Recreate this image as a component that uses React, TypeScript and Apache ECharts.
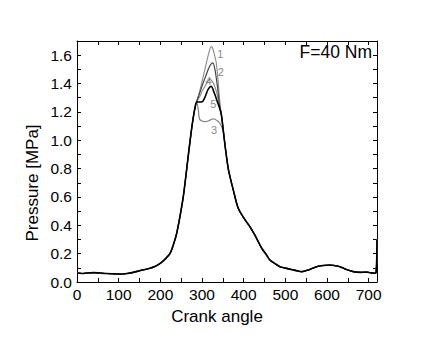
import React, { useEffect, useRef } from "react";
import * as echarts from "echarts";

// Common rising part (crank angle, pressure MPa)
const riseAngles = [0, 12, 25, 40, 55, 70, 85, 103, 120, 135, 151, 163, 175, 187, 199, 211, 223, 231, 239, 247, 255, 261, 267, 272, 277, 282, 287];
const risePressure = [0.063, 0.06, 0.064, 0.066, 0.063, 0.06, 0.058, 0.056, 0.06, 0.068, 0.08, 0.088, 0.097, 0.11, 0.13, 0.16, 0.2, 0.26, 0.34, 0.46, 0.6, 0.74, 0.89, 1.01, 1.12, 1.21, 1.27];

// Peak region of each curve
const peakAngles1 = [292, 299, 307, 315, 322, 326, 330, 334, 338, 341, 344, 347];
const peak1 = [1.32, 1.4, 1.5, 1.6, 1.66, 1.645, 1.6, 1.55, 1.44, 1.33, 1.24, 1.17];
const peakAngles2 = [293, 301, 310, 318, 326, 331, 337, 342, 347];
const peak2 = [1.32, 1.39, 1.46, 1.52, 1.545, 1.5, 1.38, 1.25, 1.17];
const peakAngles3 = [291, 294, 300, 308, 318, 324, 330, 335, 340, 345, 349];
const peak3 = [1.22, 1.15, 1.135, 1.13, 1.14, 1.15, 1.15, 1.14, 1.13, 1.11, 1.08];
const peakAngles4 = [295, 301, 307, 313, 318, 326, 334, 340, 344, 347];
const peak4 = [1.31, 1.35, 1.38, 1.41, 1.43, 1.41, 1.35, 1.27, 1.22, 1.17];
const peakAngles5 = [292, 298, 302, 308, 315, 322, 330, 337, 343, 347];
const peak5 = [1.27, 1.27, 1.275, 1.31, 1.36, 1.38, 1.33, 1.27, 1.22, 1.17];

// Common falling part
const fallAngles = [351, 355, 359, 363, 369, 375, 387, 403, 415, 427, 443, 455, 463, 475, 487, 500, 515, 530, 540, 555, 575, 590, 607, 620, 631, 645, 663, 680, 695, 705, 714, 718, 720];
const fallPressure = [1.07, 0.97, 0.88, 0.8, 0.72, 0.65, 0.52, 0.44, 0.39, 0.33, 0.24, 0.19, 0.155, 0.13, 0.108, 0.098, 0.088, 0.077, 0.073, 0.085, 0.108, 0.116, 0.12, 0.115, 0.108, 0.09, 0.073, 0.068, 0.07, 0.065, 0.062, 0.07, 0.3];

const curveNames = ["1", "2", "3", "4", "5"];
const curveColors = ["#8a8a8a", "#444444", "#777777", "#8a8a8a", "#000000"];

// Curve label anchors
const labelAngles = [344, 345, 329, 316, 327];
const labelPressures = [1.61, 1.48, 1.07, 1.42, 1.257];
const labelTexts = ["1", "2", "3", "4", "5"];

const FONT = "'Liberation Sans', Arial, Helvetica, sans-serif";

const zip = (a: number[], b: number[]) => a.map((v, i) => [v, b[i]]);

const App = () => {
  const ref = useRef<HTMLDivElement>(null);
  useEffect(() => {
    if (!ref.current) return;
    const chart = echarts.init(ref.current, null, { renderer: "svg" });
    const peaks = [
      [peakAngles1, peak1],
      [peakAngles2, peak2],
      [peakAngles3, peak3],
      [peakAngles4, peak4],
      [peakAngles5, peak5],
    ];
    const zs = [2, 4, 2, 3, 5];
    const widths = [1.1, 1.2, 1.1, 1.1, 1.6];
    const lineSeries = peaks.map((p, i) => ({
      name: curveNames[i],
      type: "line",
      xAxisIndex: 0,
      yAxisIndex: 0,
      showSymbol: false,
      symbol: "none",
      smooth: 0.3,
      z: zs[i],
      lineStyle: { color: curveColors[i], width: widths[i] },
      data: [...zip(riseAngles, risePressure), ...zip(p[0], p[1]), ...zip(fallAngles, fallPressure)],
    }));
    const axisLine = { show: true, onZero: false, lineStyle: { color: "#000", width: 1 } };
    const tick = { show: true, inside: true, length: 4, lineStyle: { color: "#000", width: 1 } };
    const xBase = { type: "value", min: 0, max: 720, interval: 50, splitLine: { show: false }, axisLine, axisTick: tick };
    const yBase = { type: "value", min: 0, max: 1.7, interval: 0.1, splitLine: { show: false }, axisLine, axisTick: tick };
    chart.setOption({
      animation: false,
      backgroundColor: "#fff",
      textStyle: { fontFamily: FONT },
      grid: { left: 77, right: 59, top: 41, bottom: 56, containLabel: false },
      xAxis: [
        {
          ...xBase,
          position: "bottom",
          axisLabel: {
            color: "#000",
            fontSize: 15.5,
            fontFamily: FONT,
            margin: 4,
            formatter: (v: number) => (Math.round(v) % 100 === 0 ? String(Math.round(v)) : ""),
          },
        },
        { ...xBase, position: "top", axisLabel: { show: false } },
      ],
      yAxis: [
        {
          ...yBase,
          position: "left",
          axisLabel: {
            color: "#000",
            fontSize: 15.5,
            fontFamily: FONT,
            margin: 5,
            formatter: (v: number) => (Math.round(v * 10) % 2 === 0 ? v.toFixed(1) : ""),
          },
        },
        { ...yBase, position: "right", axisLabel: { show: false } },
      ],
      series: [
        ...lineSeries,
        {
          type: "scatter",
          xAxisIndex: 0,
          yAxisIndex: 0,
          symbolSize: 0,
          silent: true,
          z: 10,
          label: {
            show: true,
            position: "inside",
            color: "#666",
            fontSize: 11,
            fontFamily: FONT,
            formatter: (p: any) => p.data[2],
          },
          data: labelAngles.map((a, i) => [a, labelPressures[i], labelTexts[i]]),
        },
      ],
      graphic: [
        {
          type: "text",
          x: 32,
          y: 183,
          rotation: Math.PI / 2,
          style: { text: "Pressure [MPa]", fontSize: 17, fontFamily: FONT, fill: "#000", align: "center", verticalAlign: "middle" },
        },
        {
          type: "text",
          x: 217,
          y: 316,
          style: { text: "Crank angle", fontSize: 17, fontFamily: FONT, fill: "#000", align: "center", verticalAlign: "middle" },
        },
        {
          type: "text",
          x: 372,
          y: 52,
          style: { text: "F=40 Nm", fontSize: 17.5, fontFamily: FONT, fill: "#000", align: "right", verticalAlign: "middle" },
        },
      ],
    });
    return () => chart.dispose();
  }, []);
  return (
    <div
      ref={ref}
      style={{ position: "absolute", left: 0, top: 0, width: 436, height: 338, background: "#fff" }}
    />
  );
};

export default App;
